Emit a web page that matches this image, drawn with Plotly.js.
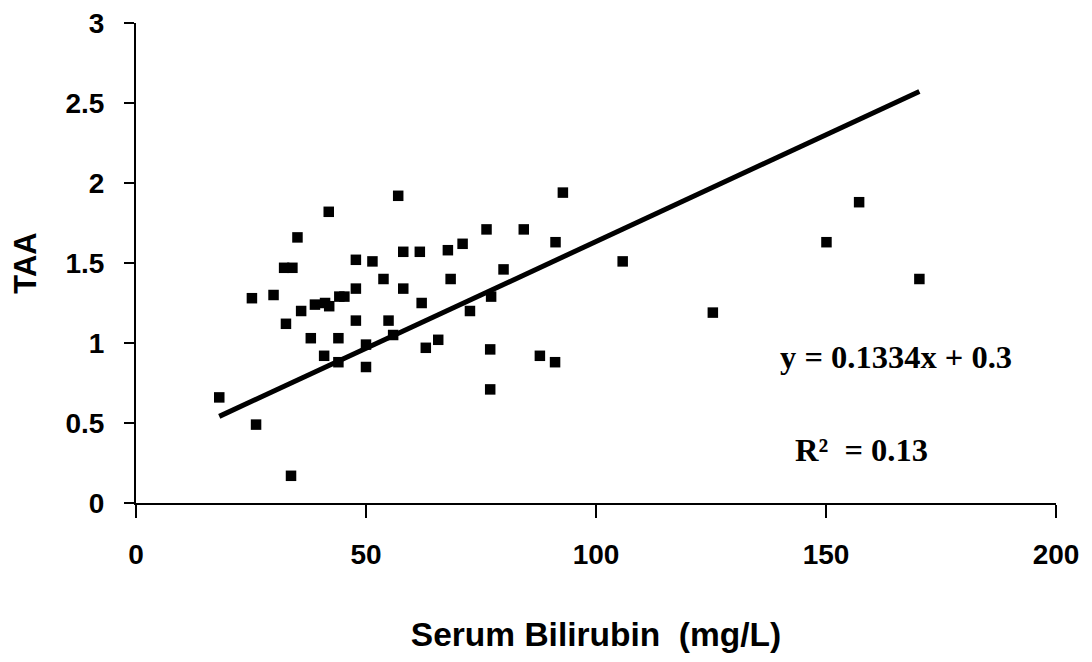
<!DOCTYPE html>
<html>
<head>
<meta charset="utf-8">
<script src="https://cdn.plot.ly/plotly-3.0.1.min.js"></script>
<style>html,body{margin:0;padding:0;background:#fff;}#chart{width:1092px;height:662px;}</style>
</head>
<body>
<div id="chart"></div>
<script>
// Serum bilirubin (mg/L)
const bilirubin = [18.1, 26.1, 33.7, 25.2, 29.9, 32.6, 32.2, 34.0, 35.1, 35.9,
  38.0, 38.9, 40.9, 41.1, 41.9, 42.0, 44.0, 44.0, 44.2, 45.3,
  47.8, 47.8, 47.8, 50.0, 50.0, 51.4, 53.8, 54.9, 55.9, 57.0,
  58.1, 58.1, 61.7, 62.1, 63.0, 65.7, 67.8, 68.4, 71.0, 72.6,
  76.2, 77.2, 77.0, 77.0, 79.9, 84.3, 87.8, 91.2, 91.1, 92.8,
  105.8, 125.4, 150.1, 157.2, 170.3];
// TAA
const taa = [0.66, 0.49, 0.17, 1.28, 1.30, 1.12, 1.47, 1.47, 1.66, 1.20,
  1.03, 1.24, 0.92, 1.25, 1.82, 1.23, 1.03, 0.88, 1.29, 1.29,
  1.52, 1.34, 1.14, 0.85, 0.99, 1.51, 1.40, 1.14, 1.05, 1.92,
  1.57, 1.34, 1.57, 1.25, 0.97, 1.02, 1.58, 1.40, 1.62, 1.20,
  1.71, 1.29, 0.96, 0.71, 1.46, 1.71, 0.92, 1.63, 0.88, 1.94,
  1.51, 1.19, 1.63, 1.88, 1.40];
// Linear fit (per unit of x on the axis) and its x span
const fitSlope = 0.01334;
const fitIntercept = 0.3;
const fitRange = [18.1, 170.3];
const xTicks = [0, 50, 100, 150, 200];
const yTicks = [0, 0.5, 1, 1.5, 2, 2.5, 3];
const eqText = 'y = 0.1334x + 0.3';
const r2Text = 'R\u00B2  = 0.13';

const fitY = fitRange.map(x => fitSlope * x + fitIntercept);

const traces = [
  {
    x: fitRange, y: fitY, type: 'scatter', mode: 'lines',
    line: {color: '#000', width: 5}, hoverinfo: 'skip'
  },
  {
    x: bilirubin, y: taa, type: 'scatter', mode: 'markers',
    marker: {symbol: 'square', size: 10.5, color: '#000', line: {width: 0}}
  }
];

const sans = 'Liberation Sans, Arial, sans-serif';
const tickFont = {family: sans, size: 28, color: '#000', weight: 'bold'};

const layout = {
  width: 1092, height: 662,
  margin: {l: 136, r: 36, t: 23, b: 159},
  paper_bgcolor: '#fff', plot_bgcolor: '#fff',
  showlegend: false,
  xaxis: {
    range: [0, 200], tickvals: xTicks, ticktext: xTicks.map(String),
    showgrid: false, zeroline: false,
    showline: true, linecolor: '#000', linewidth: 2,
    ticks: 'outside', ticklen: 13, tickwidth: 2, tickcolor: '#000',
    ticklabelstandoff: 12,
    tickfont: tickFont,
    title: {text: 'Serum Bilirubin  (mg/L)', standoff: 54,
      font: {family: sans, size: 33.5, color: '#000', weight: 'bold'}}
  },
  yaxis: {
    range: [0, 3], tickvals: yTicks, ticktext: yTicks.map(String),
    showgrid: false, zeroline: false,
    showline: true, linecolor: '#000', linewidth: 2,
    ticks: 'outside', ticklen: 10, tickwidth: 2, tickcolor: '#000',
    ticklabelstandoff: 14,
    tickfont: tickFont,
    title: {text: 'TAA', standoff: 20,
      font: {family: sans, size: 31, color: '#000', weight: 'bold'}}
  },
  annotations: [
    {x: 165.2, y: 0.91, xref: 'x', yref: 'y', text: eqText, showarrow: false,
      font: {family: 'Liberation Serif, Times New Roman, serif', size: 32.5, color: '#000', weight: 'bold'}},
    {x: 157.8, y: 0.33, xref: 'x', yref: 'y', text: r2Text, showarrow: false,
      font: {family: 'Liberation Serif, Times New Roman, serif', size: 32.5, color: '#000', weight: 'bold'}}
  ]
};

Plotly.newPlot('chart', traces, layout, {displayModeBar: false, staticPlot: true});
</script>
</body>
</html>
